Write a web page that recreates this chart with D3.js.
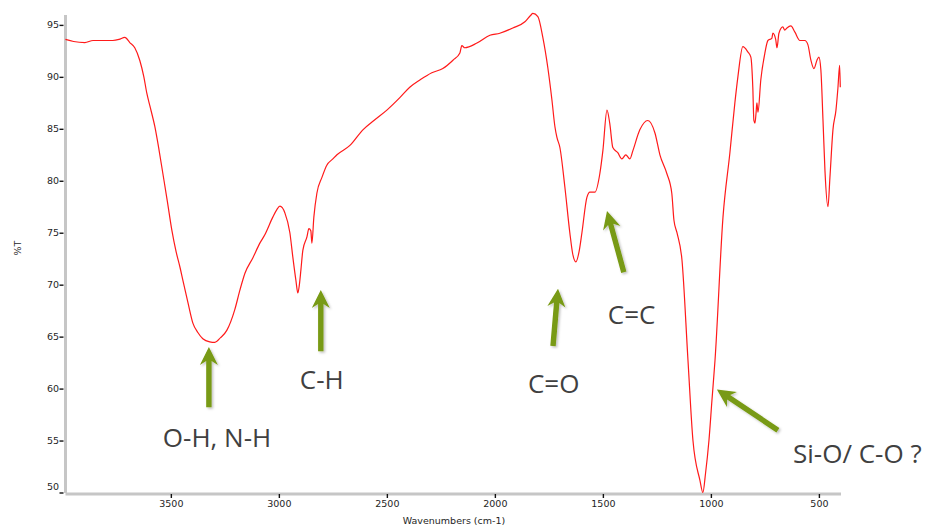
<!DOCTYPE html>
<html>
<head>
<meta charset="utf-8">
<script src="https://cdn.jsdelivr.net/npm/d3@7"></script>
<style>
  body { margin: 0; background: #fff; }
  svg { display: block; }
</style>
</head>
<body>
<svg id="chart" width="932" height="526"></svg>
<script>
// spectrum: wavenumber (cm-1) and %T
const wavenumbers = [
  3988, 3950, 3898, 3860, 3829, 3769, 3740, 3713, 3690, 3667, 3644, 3625, 3611, 3597,
  3574, 3555, 3537, 3516, 3495, 3476, 3458, 3444, 3420, 3398, 3375, 3352, 3320, 3296,
  3270, 3241, 3204, 3180, 3157, 3120, 3088, 3065, 3028, 3010, 2995, 2972, 2949, 2935,
  2921, 2912, 2905, 2898, 2889, 2870, 2861, 2852, 2847, 2838, 2824, 2801, 2778, 2750,
  2731, 2671, 2611, 2560, 2500, 2440, 2394, 2347, 2292, 2241, 2194, 2162, 2153, 2139,
  2083, 2023, 1977, 1917, 1861, 1835, 1824, 1801, 1778, 1755, 1736, 1722, 1713, 1699,
  1676, 1653, 1640, 1625, 1610, 1597, 1574, 1560, 1537, 1514, 1500, 1481, 1468, 1454,
  1431, 1412, 1394, 1375, 1361, 1329, 1292, 1259, 1236, 1204, 1181, 1171, 1157, 1134,
  1106, 1083, 1051, 1037, 1025, 1009, 995, 981, 944, 912, 889, 875, 852, 829,
  815, 806, 801, 796, 791, 787, 782, 769, 750, 736, 718, 713, 700, 694,
  685, 667, 658, 648, 630, 611, 588, 565, 551, 537, 523, 509, 500, 491,
  481, 472, 458, 449, 435, 421, 412, 404, 401
];
const transmittance = [
  93.6, 93.4, 93.3, 93.5, 93.5, 93.5, 93.6, 93.8, 93.3, 92.8, 91.6, 90.0, 88.4, 87.2,
  85.2, 83.0, 80.7, 78.0, 75.2, 73.2, 71.7, 70.4, 68.2, 66.3, 65.4, 64.8, 64.5, 64.45,
  64.9, 65.6, 67.6, 69.5, 71.1, 72.6, 74.0, 74.8, 76.5, 77.2, 77.55, 76.9, 75.0, 72.6,
  70.4, 69.2, 70.0, 71.4, 73.3, 74.6, 75.4, 75.2, 74.0, 76.5, 78.8, 80.3, 81.5, 82.1,
  82.5, 83.4, 84.9, 85.8, 86.8, 88.0, 89.0, 89.7, 90.4, 90.8, 91.6, 92.3, 93.0, 92.8,
  93.25, 94.0, 94.2, 94.7, 95.3, 95.9, 96.1, 95.8, 93.8, 90.9, 87.8, 85.2, 84.2, 83.2,
  79.4, 75.0, 73.0, 72.2, 73.2, 75.0, 78.4, 78.9, 78.9, 80.7, 82.9, 86.8, 85.5, 83.2,
  82.7, 82.1, 82.5, 82.1, 82.9, 84.9, 85.8, 84.6, 82.5, 80.7, 78.8, 76.2, 75.0, 72.4,
  62.7, 55.0, 51.2, 50.0, 51.8, 55.0, 58.9, 62.7, 76.5, 82.7, 87.5, 90.0, 92.9, 92.4,
  91.9, 89.0, 85.8, 85.55, 86.5, 87.5, 86.6, 89.7, 92.3, 93.5, 93.7, 94.2, 93.6, 92.8,
  94.2, 94.8, 94.5, 94.7, 94.9, 94.3, 93.5, 93.5, 93.1, 91.6, 90.8, 91.6, 91.9, 90.7,
  85.8, 81.0, 77.5, 80.3, 84.9, 86.8, 88.9, 91.1, 89.0
];

const xTicks = [3500, 3000, 2500, 2000, 1500, 1000, 500];
const yTicks = [50, 55, 60, 65, 70, 75, 80, 85, 90, 95];

// band assignments: arrow tail/tip and label anchor in (cm-1, %T)
const bandLabels = ["O-H, N-H", "C-H", "C=O", "C=C", "Si-O/ C-O ?"];
const arrowTails = [[3324, 58.2], [2806, 63.6], [1731, 64.1], [1403, 71.2], [690, 56.0]];
const arrowTips  = [[3324, 64.0], [2806, 69.5], [1708, 69.6], [1481, 77.1], [972, 59.9]];
const labelAnchors = [[3537, 54.4], [2903, 60.0], [1847, 59.6], [1477, 66.2], [620, 52.8]];

const svg = d3.select("#chart");
const x = d3.scaleLinear().domain([3990, 400]).range([65, 840.5]);
const y = d3.scaleLinear().domain([50, 96]).range([492.5, 14.5]);

const axisGrey = "#c6c6c6";
const tickFont = "DejaVu Sans, Verdana, sans-serif";
const tickInk = "#1e1e1e";

// y axis
let gy = svg.append("g").attr("transform", "translate(65,0)");
gy.call(d3.axisLeft(y).tickValues(d3.range(50, 97, 1)).tickSize(2).tickFormat("").tickSizeOuter(0));
gy.call(d3.axisLeft(y).tickValues(yTicks).tickSize(4).tickPadding(2).tickSizeOuter(0));
gy.selectAll(".domain").attr("stroke", axisGrey).attr("stroke-width", 3);
gy.selectAll(".tick line").attr("stroke", "#111").attr("stroke-width", 1.4).attr("transform", "translate(-1.5,0)");
gy.selectAll(".tick text")
  .attr("font-family", tickFont).attr("font-size", 9.5).attr("fill", tickInk)
  .attr("dy", d => d === 50 ? "-0.3em" : "0.32em");

// x axis
let gx = svg.append("g").attr("transform", "translate(0,493.5)");
gx.call(d3.axisBottom(x).tickValues(d3.range(3900, 399, -100)).tickSize(2).tickFormat("").tickSizeOuter(0));
gx.call(d3.axisBottom(x).tickValues(xTicks).tickFormat(d3.format("d")).tickSize(4).tickPadding(3).tickSizeOuter(0));
gx.selectAll(".domain").attr("stroke", axisGrey).attr("stroke-width", 3);
gx.selectAll(".tick line").attr("stroke", "#111").attr("stroke-width", 1.4).attr("transform", "translate(0,0.5)");
gx.selectAll(".tick text")
  .attr("font-family", tickFont).attr("font-size", 9.5).attr("fill", tickInk);

// axis titles
svg.append("text")
  .attr("x", 454).attr("y", 524)
  .attr("text-anchor", "middle")
  .attr("font-family", tickFont).attr("font-size", 9.5).attr("fill", tickInk)
  .text("Wavenumbers (cm-1)");

svg.append("text")
  .attr("transform", "translate(21,248) rotate(-90)")
  .attr("text-anchor", "middle")
  .attr("font-family", tickFont).attr("font-size", 9.5).attr("fill", tickInk)
  .text("%T");

// spectrum
let line = d3.line()
  .x(d => x(d[0]))
  .y(d => y(d[1]))
  .curve(d3.curveMonotoneX);

svg.append("path")
  .datum(d3.zip(wavenumbers, transmittance))
  .attr("fill", "none")
  .attr("stroke", "#ff1a1a")
  .attr("stroke-width", 1.2)
  .attr("stroke-linejoin", "round")
  .attr("d", line);

// arrows + labels
let defs = svg.append("defs");
defs.append("filter").attr("id", "shade")
  .attr("x", "-50%").attr("y", "-50%").attr("width", "200%").attr("height", "200%")
  .append("feDropShadow")
  .attr("dx", 1.5).attr("dy", 1.5).attr("stdDeviation", 1.2)
  .attr("flood-color", "#000").attr("flood-opacity", 0.25);

let arrowPath = function(tail, tip) {
  let x0 = x(tail[0]), y0 = y(tail[1]);
  let x1 = x(tip[0]), y1 = y(tip[1]);
  let len = Math.hypot(x1 - x0, y1 - y0);
  let ux = (x1 - x0) / len, uy = (y1 - y0) / len;
  let nx = -uy, ny = ux;
  let sw = 2.7, hw = 9, hl = 14, back = 18;
  let pts = [
    [x0 + nx * sw, y0 + ny * sw],
    [x1 - ux * hl + nx * sw, y1 - uy * hl + ny * sw],
    [x1 - ux * back + nx * hw, y1 - uy * back + ny * hw],
    [x1, y1],
    [x1 - ux * back - nx * hw, y1 - uy * back - ny * hw],
    [x1 - ux * hl - nx * sw, y1 - uy * hl - ny * sw],
    [x0 - nx * sw, y0 - ny * sw]
  ];
  return "M" + pts.map(p => p[0].toFixed(1) + "," + p[1].toFixed(1)).join("L") + "Z";
};

svg.append("g").selectAll("path")
  .data(d3.range(bandLabels.length))
  .join("path")
  .attr("d", i => arrowPath(arrowTails[i], arrowTips[i]))
  .attr("fill", "#789a12")
  .attr("filter", "url(#shade)");

svg.append("g").selectAll("text")
  .data(bandLabels)
  .join("text")
  .attr("x", (d, i) => x(labelAnchors[i][0]))
  .attr("y", (d, i) => y(labelAnchors[i][1]))
  .attr("font-family", "'Open Sans', sans-serif")
  .attr("font-size", 26)
  .attr("fill", "#404040")
  .text(d => d);
</script>
</body>
</html>
